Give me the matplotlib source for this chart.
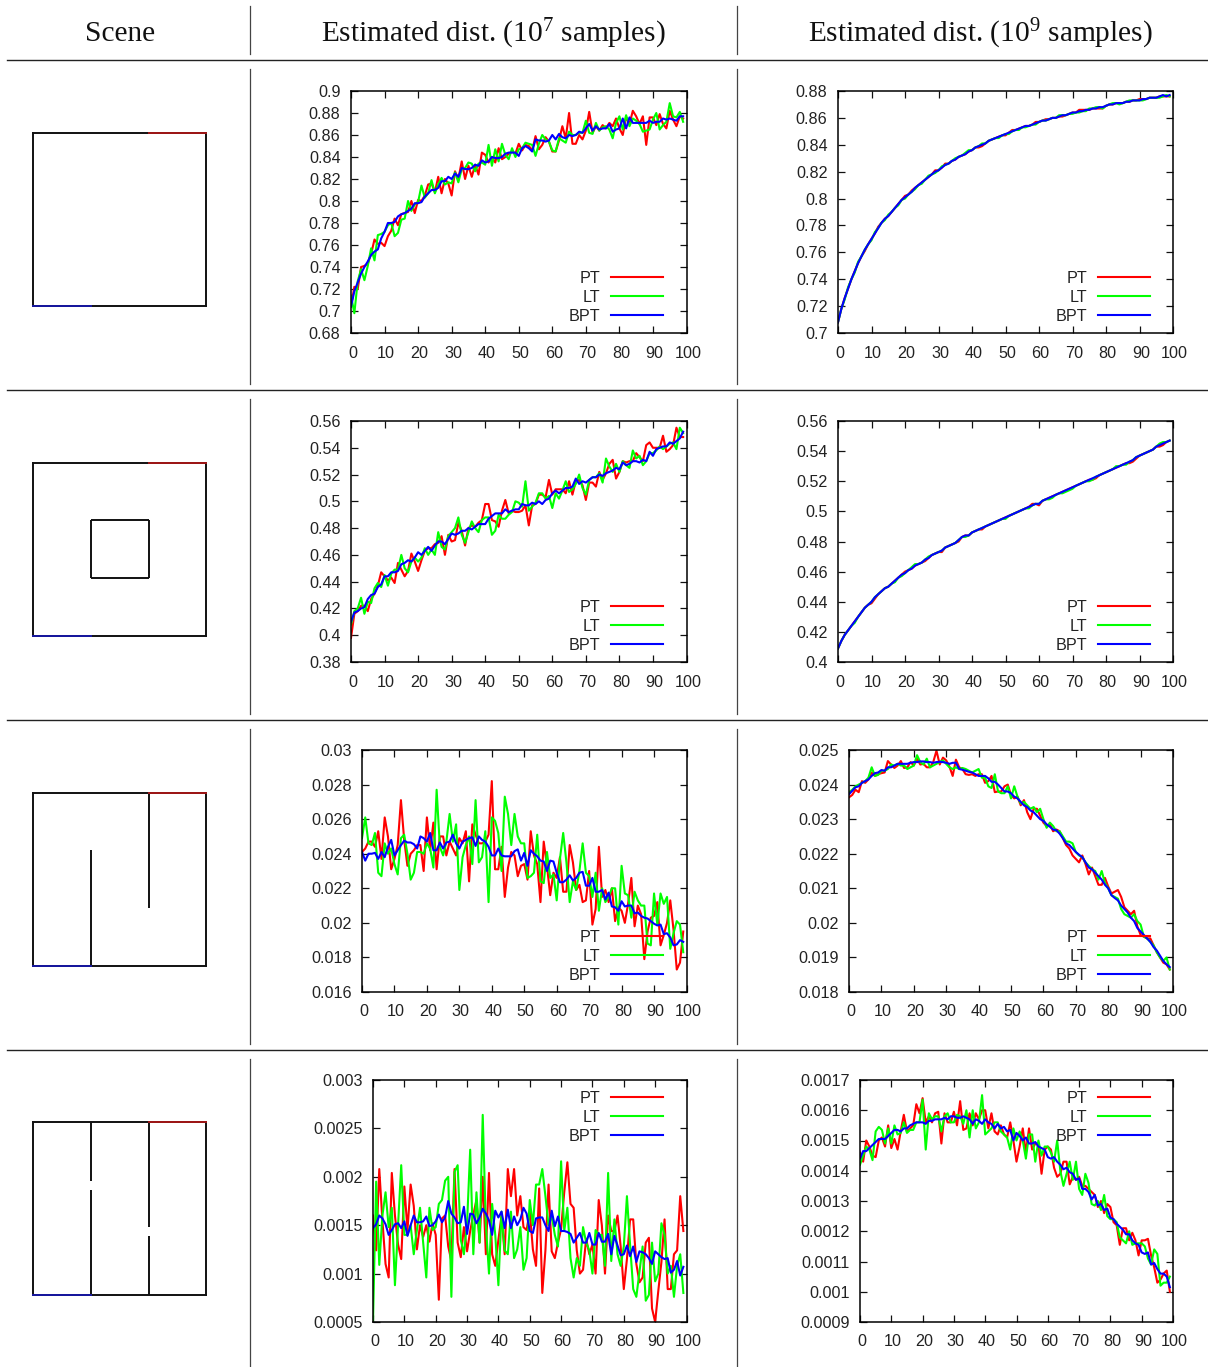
import numpy as np
import matplotlib
matplotlib.use('Agg')
import matplotlib.pyplot as plt
from matplotlib.ticker import FormatStrFormatter, MultipleLocator
from matplotlib.transforms import ScaledTranslation

plt.rcParams['font.family'] = ['Liberation Sans', 'DejaVu Sans']
plt.rcParams['mathtext.fontset'] = 'custom'
plt.rcParams['mathtext.rm'] = 'Liberation Serif'
plt.rcParams['mathtext.default'] = 'rm'

W, H = 1208, 1367
colors = ['#ff0000', '#00ff00', '#0000ff']
labels = ['PT', 'LT', 'BPT']

headers = ['Scene', r'Estimated dist. (10$^{7}$ samples)', r'Estimated dist. (10$^{9}$ samples)']

# Row 1, values in 1e-3
pt_1a = [704,722,720,740,741,743,752,765,761,762,759,768,773,784,778,788,789,790,800,789,801,800,805,815,816,808,822,807,820,816,805,827,820,836,820,832,822,833,824,844,842,835,840,835,848,838,840,843,845,843,852,846,851,850,846,859,847,851,858,854,845,845,855,868,857,880,852,852,860,856,864,881,862,868,864,869,866,871,868,875,866,860,876,870,882,877,870,877,851,876,876,869,879,870,866,882,874,868,877,875]
lt_1a = [714,698,727,738,728,741,757,746,769,770,772,778,780,768,771,783,784,800,791,797,799,814,803,807,819,807,815,821,815,817,816,826,817,829,830,835,834,827,834,835,833,851,832,847,836,852,842,838,848,840,847,848,853,852,851,841,852,860,856,854,846,845,857,855,853,863,860,860,862,862,873,862,861,871,864,867,868,865,857,871,877,865,878,868,875,873,870,863,864,865,874,880,865,869,872,889,877,876,881,872]
bpt_1a = [704,718,726,734,740,745,751,754,756,766,772,780,780,781,786,788,789,791,793,798,798,799,804,807,810,810,812,818,818,822,820,825,822,830,829,829,830,833,832,837,835,836,840,839,839,840,843,844,844,844,841,848,850,848,845,856,855,855,854,855,860,856,861,858,857,860,859,860,863,862,866,870,864,868,865,866,866,870,863,865,866,875,866,876,871,871,871,871,871,873,871,872,872,875,874,875,874,873,877,877]
pt_1b = [708,718,726,733,740,746,752,757,761,766,770,774,779,782,785,787,790,793,796,799,802,803,806,808,810,812,814,816,818,821,821,823,826,826,828,829,831,832,833,835,836,838,838,839,841,843,844,845,846,847,847,849,851,851,852,853,854,854,855,857,857,858,859,859,860,860,861,861,862,863,864,864,866,866,866,866,867,867,867,867,869,870,870,871,871,871,872,872,873,873,874,874,874,875,875,875,876,876,876,876]
lt_1b = [708,718,725,734,740,745,753,757,762,766,769,775,778,782,784,788,790,793,795,799,800,803,805,807,810,811,814,817,818,819,821,824,825,826,828,830,831,832,834,836,836,838,839,841,841,843,844,845,845,847,848,848,850,851,851,853,853,854,855,855,857,858,858,859,860,860,862,862,862,863,863,864,864,865,865,867,867,868,868,867,869,870,871,871,870,871,872,873,873,873,873,873,874,875,875,875,875,876,877,876]
bpt_1b = [708,718,726,733,740,746,752,757,762,766,770,774,778,782,785,787,790,793,796,799,801,803,805,808,810,812,814,816,818,820,821,823,825,826,828,829,831,832,833,835,836,838,839,840,841,843,844,845,846,847,848,849,850,851,852,853,854,854,855,856,857,858,858,859,860,860,861,862,862,863,864,864,865,865,866,866,867,867,868,868,869,870,870,871,871,871,872,872,873,873,873,874,874,875,875,875,876,877,876,877]

# Row 2, values in 1e-3
pt_2a = [398,416,418,422,422,418,427,431,437,447,444,441,443,439,454,449,444,448,461,455,448,456,463,465,465,468,469,474,460,475,470,471,484,478,467,480,482,481,484,486,498,498,486,485,481,493,501,491,493,492,492,493,497,482,497,498,505,505,503,516,505,509,509,509,506,515,505,515,516,512,501,514,514,511,522,516,521,528,531,517,522,530,529,530,530,536,533,530,542,544,540,540,540,549,537,539,542,555,548,548]
lt_2a = [408,418,420,428,416,425,424,435,439,436,445,437,446,449,449,460,450,447,455,458,455,458,465,460,464,460,477,466,464,474,477,480,488,475,469,477,485,480,477,486,488,488,475,478,490,487,487,490,492,500,499,496,515,493,496,499,506,506,502,504,495,506,502,508,515,507,509,513,520,510,505,516,518,518,521,514,532,526,522,528,522,530,527,525,538,532,534,527,530,536,536,538,541,539,541,543,544,539,555,551]
bpt_2a = [410,417,418,420,421,427,430,431,436,438,444,444,447,447,448,453,454,456,455,458,462,460,463,466,463,467,470,470,468,472,476,475,476,478,478,480,479,481,483,483,483,487,489,491,491,491,494,492,493,494,494,498,497,497,499,498,500,498,501,502,506,508,506,508,510,510,511,517,513,515,514,516,518,518,520,519,521,522,523,525,524,529,527,528,530,530,529,531,530,537,534,539,540,541,541,544,543,545,547,552]
pt_2b = [409,414,418,421,424,427,430,433,436,438,439,442,445,447,449,450,452,454,456,458,460,461,462,464,465,466,467,469,471,472,473,473,476,477,478,479,480,483,484,484,486,487,488,488,490,491,492,493,494,495,496,497,498,499,500,501,502,503,505,505,504,507,508,509,510,511,512,513,514,515,516,517,518,519,520,521,521,522,524,525,526,527,528,529,530,531,532,532,533,535,537,538,539,540,541,543,543,544,546,547]
lt_2b = [409,414,418,421,424,426,430,433,436,438,440,443,445,447,449,450,452,453,456,457,459,461,463,465,465,466,468,470,471,472,473,474,476,477,478,479,481,483,483,484,486,487,488,489,490,491,492,493,494,495,495,497,498,499,500,501,502,502,504,505,505,507,508,508,509,511,512,512,513,514,515,517,518,519,520,520,521,523,524,525,526,527,528,530,530,531,531,533,534,536,537,538,539,540,541,543,545,546,546,547]
bpt_2b = [409,414,418,421,424,427,430,433,436,438,440,443,445,447,449,450,452,454,456,458,459,461,462,464,465,466,468,469,471,472,473,474,476,477,478,479,481,483,484,484,486,487,488,489,490,491,492,493,494,495,496,497,498,499,500,501,502,503,504,505,505,507,508,509,510,511,512,513,514,515,516,517,518,519,520,521,522,523,524,525,526,527,528,529,530,531,532,533,534,536,537,538,539,540,541,543,544,545,546,547]

# Row 3, values in 1e-5
pt_3a = [2410,2430,2470,2470,2440,2530,2370,2610,2500,2310,2370,2450,2710,2480,2330,2400,2420,2450,2450,2300,2610,2420,2580,2310,2500,2500,2390,2470,2430,2390,2490,2460,2530,2240,2570,2510,2460,2460,2470,2510,2820,2310,2310,2440,2150,2320,2410,2390,2270,2330,2340,2250,2530,2390,2340,2120,2470,2330,2160,2290,2260,2380,2180,2180,2450,2350,2190,2220,2120,2130,2300,1990,2080,2440,2150,2190,2120,2200,2010,2090,2070,2000,2110,2260,1980,2100,2050,1790,1950,2030,2040,2120,1870,1930,2000,2130,1960,1730,1770,1950]
lt_3a = [2490,2610,2460,2450,2520,2290,2270,2460,2400,2430,2340,2280,2490,2510,2400,2250,2290,2410,2410,2400,2460,2430,2320,2770,2440,2390,2470,2630,2470,2570,2190,2380,2450,2500,2340,2710,2350,2380,2530,2120,2610,2590,2520,2300,2730,2630,2450,2630,2500,2460,2460,2260,2270,2290,2510,2240,2230,2410,2260,2280,2130,2370,2520,2350,2120,2240,2190,2300,2460,2290,2270,2150,2290,2070,2200,2120,2150,2200,2200,1990,2330,2170,2160,2030,2180,2130,2100,2100,1880,1870,2170,1990,2170,2110,2150,1850,1940,2010,1990,1830]
bpt_3a = [2410,2360,2400,2400,2405,2370,2410,2380,2440,2480,2390,2420,2450,2475,2465,2465,2455,2430,2500,2490,2470,2520,2420,2420,2465,2430,2465,2470,2510,2460,2430,2470,2480,2490,2495,2445,2500,2480,2470,2440,2390,2390,2430,2390,2385,2385,2385,2415,2425,2360,2405,2330,2420,2400,2385,2360,2355,2300,2360,2355,2290,2235,2235,2250,2275,2245,2260,2290,2295,2215,2215,2260,2180,2180,2190,2135,2175,2095,2090,2070,2125,2095,2100,2100,2055,2060,2040,2030,2025,2010,1995,1985,1990,1935,1940,1915,1870,1875,1900,1890]
pt_3b = [2363,2370,2385,2378,2410,2405,2415,2435,2425,2430,2433,2435,2468,2458,2448,2455,2468,2448,2450,2465,2455,2475,2458,2460,2450,2450,2465,2498,2458,2478,2470,2452,2425,2472,2450,2445,2430,2428,2430,2425,2430,2430,2405,2410,2425,2378,2380,2380,2395,2400,2370,2360,2365,2340,2355,2320,2300,2330,2330,2310,2290,2280,2285,2265,2270,2265,2245,2225,2215,2195,2185,2175,2195,2170,2140,2160,2135,2110,2110,2130,2105,2085,2090,2095,2075,2045,2035,2025,2035,1990,1965,1960,1955,1955,1935,1915,1900,1885,1880,1865]
lt_3b = [2378,2385,2395,2400,2405,2410,2420,2450,2425,2428,2440,2440,2445,2458,2455,2460,2455,2455,2445,2450,2455,2485,2465,2458,2475,2450,2455,2460,2465,2470,2460,2450,2445,2450,2445,2448,2445,2440,2435,2440,2445,2420,2420,2395,2390,2430,2380,2375,2375,2395,2360,2395,2365,2345,2350,2340,2330,2335,2320,2330,2300,2275,2290,2280,2265,2265,2250,2235,2235,2230,2205,2195,2190,2175,2165,2155,2150,2125,2150,2115,2100,2080,2075,2070,2040,2025,2020,2015,2025,2005,1995,1960,1955,1945,1935,1915,1900,1890,1900,1865]
bpt_3b = [2372,2382,2392,2395,2405,2410,2415,2425,2433,2435,2442,2440,2450,2450,2455,2460,2460,2460,2460,2463,2465,2465,2467,2467,2465,2465,2463,2465,2466,2465,2463,2460,2463,2463,2445,2443,2440,2437,2435,2430,2425,2425,2425,2418,2408,2408,2400,2390,2380,2380,2375,2365,2360,2350,2340,2335,2325,2320,2310,2300,2295,2285,2278,2270,2268,2258,2245,2230,2225,2215,2205,2197,2190,2175,2160,2155,2145,2135,2125,2110,2100,2080,2072,2065,2050,2040,2030,2015,2005,1985,1975,1965,1955,1945,1930,1920,1905,1890,1880,1872]

# Row 4, values in 1e-6
pt_4a = [1600,1240,2080,1550,1100,960,2040,1600,1300,1150,1900,1450,1920,1700,1250,1500,1380,1500,1330,1520,1400,730,1570,1600,1280,1130,2080,1320,1170,1480,1230,1440,1610,1760,1320,2000,1200,2040,1200,1080,1350,1600,1200,2080,1800,2080,1600,1800,1480,1450,1650,1250,1080,1880,800,1240,1920,1230,1160,1320,1460,1840,2150,1720,1680,1240,1000,1040,1360,1200,1300,1000,1760,1500,1000,1600,1440,1440,1600,1280,840,1150,1560,1560,1100,910,960,1320,1370,640,500,820,1120,1560,840,840,1200,1240,1800,1440]
lt_4a = [500,1950,1090,1600,1840,1480,1680,880,1500,2120,1400,1400,1500,1200,1450,1680,1320,960,1680,1450,1480,1720,1760,1960,2000,760,2050,2120,1350,1200,1520,2280,1200,1840,1320,2640,1500,1000,1720,1400,880,1640,1240,1200,1640,1160,1250,1480,1040,1160,1760,1500,1920,1920,2080,1800,1500,1600,1400,1280,2160,1440,1680,1160,960,1160,1080,1480,1320,1240,1000,1450,1400,1400,1080,2040,1130,1560,1200,1080,1280,1800,1300,840,760,1020,1280,720,780,1320,920,1000,1520,1400,1000,1080,760,1080,1200,800]
bpt_4a = [1470,1510,1600,1570,1510,1400,1450,1510,1520,1470,1540,1390,1500,1600,1530,1530,1540,1590,1490,1500,1540,1610,1530,1580,1750,1620,1580,1520,1530,1690,1410,1620,1610,1520,1580,1670,1620,1550,1400,1650,1580,1640,1470,1660,1470,1590,1500,1560,1680,1620,1440,1420,1570,1580,1580,1500,1440,1650,1490,1590,1440,1440,1430,1410,1320,1370,1420,1320,1320,1420,1300,1300,1420,1330,1330,1410,1200,1390,1290,1190,1200,1290,1180,1280,1120,1230,1220,1200,1160,1100,1230,1200,1170,1150,1160,1010,1040,1130,980,1070]
pt_4b = [1460,1430,1500,1480,1450,1445,1500,1510,1480,1550,1475,1505,1470,1530,1585,1530,1540,1550,1620,1590,1640,1560,1580,1560,1590,1595,1490,1590,1560,1560,1595,1550,1630,1535,1540,1590,1550,1590,1570,1600,1600,1540,1590,1530,1520,1550,1520,1510,1560,1500,1430,1480,1540,1460,1540,1470,1490,1490,1390,1470,1480,1470,1410,1380,1390,1430,1430,1355,1380,1370,1380,1350,1350,1340,1330,1320,1280,1300,1260,1290,1280,1230,1220,1155,1210,1210,1170,1195,1170,1120,1170,1170,1175,1120,1080,1030,1040,1060,1070,1000]
lt_4b = [1420,1450,1480,1470,1435,1530,1545,1535,1490,1540,1490,1550,1520,1525,1560,1525,1535,1535,1560,1560,1635,1470,1590,1570,1580,1580,1530,1580,1590,1560,1560,1585,1580,1555,1600,1510,1600,1540,1560,1650,1520,1530,1540,1560,1560,1530,1520,1510,1470,1540,1500,1530,1500,1440,1520,1520,1430,1500,1450,1480,1480,1460,1430,1500,1400,1350,1390,1430,1370,1430,1340,1320,1390,1360,1290,1285,1300,1270,1320,1250,1240,1240,1230,1180,1170,1160,1200,1155,1160,1160,1160,1150,1110,1090,1140,1125,1020,1030,1030,1050]
bpt_4b = [1440,1465,1465,1475,1485,1495,1505,1505,1505,1515,1525,1535,1535,1530,1540,1540,1550,1555,1560,1560,1560,1555,1565,1565,1570,1570,1570,1575,1570,1580,1580,1575,1575,1580,1575,1570,1555,1570,1565,1555,1570,1560,1555,1540,1555,1540,1545,1530,1535,1500,1525,1515,1500,1510,1490,1490,1495,1480,1475,1470,1445,1440,1445,1430,1420,1405,1410,1395,1390,1370,1375,1340,1340,1330,1305,1320,1285,1290,1270,1275,1245,1240,1225,1215,1205,1190,1190,1170,1160,1155,1130,1125,1130,1090,1095,1075,1060,1060,1050,1015]

# Scene walls on a 3x3 grid, y up: (x0, y0, x1, y1)
box = [(0, 0, 3, 0), (3, 0, 3, 3), (3, 3, 0, 3), (0, 3, 0, 0)]
scene_walls = [
    box,
    box + [(1, 1, 2, 1), (2, 1, 2, 2), (2, 2, 1, 2), (1, 2, 1, 1)],
    box + [(1, 0, 1, 2), (2, 1, 2, 3)],
    box + [(1, 0, 1, 1.82), (1, 1.98, 1, 3), (2, 0, 2, 1.02), (2, 1.19, 2, 3)],
]
light = (2, 3, 3, 3)
sensor = (0, 0, 1, 0)


def px_axes(fig, left, top, right, bottom):
    return fig.add_axes([left/W, 1-bottom/H, (right-left)/W, (bottom-top)/H])


def plot_panel(fig, box_px, series, scale, ylim, ystep, legend_loc):
    ax = px_axes(fig, *box_px)
    for y, color, label in zip(series, colors, labels):
        ax.plot(np.arange(len(y)), np.array(y)*scale, color=color, lw=1.5, label=label)
    ax.set_xlim(0, 100)
    ax.set_ylim(*ylim)
    ax.xaxis.set_major_locator(MultipleLocator(10))
    ax.yaxis.set_major_locator(MultipleLocator(ystep))
    ax.yaxis.set_major_formatter(FormatStrFormatter('%g'))
    ax.tick_params(direction='in', top=True, right=True, length=5, width=0.9,
                   labelsize=11.6, color='#111111', labelcolor='#222222')
    ax.tick_params(axis='x', pad=9)
    ax.tick_params(axis='y', pad=7.5)
    # gnuplot's x labels sit slightly right of their ticks
    shift = ScaledTranslation(1.5/100, 0, fig.dpi_scale_trans)
    for label in ax.get_xticklabels():
        label.set_transform(label.get_transform() + shift)
    for spine in ax.spines.values():
        spine.set_linewidth(1.1)
    if legend_loc == 'lower right':
        anchor = (1-23.5/(box_px[2]-box_px[0]), 9/(box_px[3]-box_px[1]))
    else:
        anchor = (1-23.5/(box_px[2]-box_px[0]), 1-11/(box_px[3]-box_px[1]))
    ax.legend(loc=legend_loc, bbox_to_anchor=anchor, frameon=False, markerfirst=False,
              fontsize=11.6, handlelength=3.2, handletextpad=0.68, labelspacing=0.25,
              borderaxespad=0, borderpad=0, labelcolor='#222222')
    return ax


def plot_scene(fig, top, walls):
    ax = px_axes(fig, 33.4, top, 206.4, top+173)
    for i, (x0, y0, x1, y1) in enumerate(walls):
        cap = 'projecting' if i < 4 else 'butt'
        ax.plot([x0, x1], [y0, y1], color='#111111', lw=1.4, solid_capstyle=cap)
    ax.plot(light[::2], light[1::2], color='#a01818', lw=1.4)
    ax.plot(sensor[::2], sensor[1::2], color='#1818a0', lw=1.4)
    ax.set_xlim(0, 3)
    ax.set_ylim(0, 3)
    ax.axis('off')
    for line in ax.lines:
        line.set_clip_on(False)


fig = plt.figure(figsize=(W/100, H/100), dpi=100)

# Table rules and header
bg = fig.add_axes([0, 0, 1, 1])
bg.set_xlim(0, W)
bg.set_ylim(H, 0)
bg.axis('off')
for y in [59.8, 389.8, 719.8, 1049.8]:
    bg.plot([7, 1207], [y, y], color='#222222', lw=1.0)
for x in [249.8, 736.8]:
    for y0, y1 in [(6, 54), (69, 384), (399, 714), (729, 1044), (1059, 1367)]:
        bg.plot([x, x], [y0, y1], color='#444444', lw=0.9)
for x, text in zip([120, 493.5, 980], headers):
    bg.text(x, 34, text, family=['Liberation Serif'], fontsize=21.2, color='#111111',
            ha='center', va='center')

for top, walls in zip([132.7, 462.5, 792.7, 1122.3], scene_walls):
    plot_scene(fig, top, walls)

plot_panel(fig, (351, 91, 686.5, 333), [pt_1a, lt_1a, bpt_1a], 1e-3, (0.68, 0.9), 0.02, 'lower right')
plot_panel(fig, (838, 91, 1173, 333), [pt_1b, lt_1b, bpt_1b], 1e-3, (0.7, 0.88), 0.02, 'lower right')
plot_panel(fig, (351, 421, 686.5, 662), [pt_2a, lt_2a, bpt_2a], 1e-3, (0.38, 0.56), 0.02, 'lower right')
plot_panel(fig, (838, 421, 1173, 662), [pt_2b, lt_2b, bpt_2b], 1e-3, (0.4, 0.56), 0.02, 'lower right')
plot_panel(fig, (362, 750, 686.5, 992), [pt_3a, lt_3a, bpt_3a], 1e-5, (0.016, 0.03), 0.002, 'lower right')
plot_panel(fig, (849, 750, 1173, 992), [pt_3b, lt_3b, bpt_3b], 1e-5, (0.018, 0.025), 0.001, 'lower right')
plot_panel(fig, (373, 1080, 686.5, 1322), [pt_4a, lt_4a, bpt_4a], 1e-6, (0.0005, 0.003), 0.0005, 'upper right')
plot_panel(fig, (860, 1080, 1173, 1322), [pt_4b, lt_4b, bpt_4b], 1e-6, (0.0009, 0.0017), 0.0001, 'upper right')

plt.savefig('out.png', dpi=100)
